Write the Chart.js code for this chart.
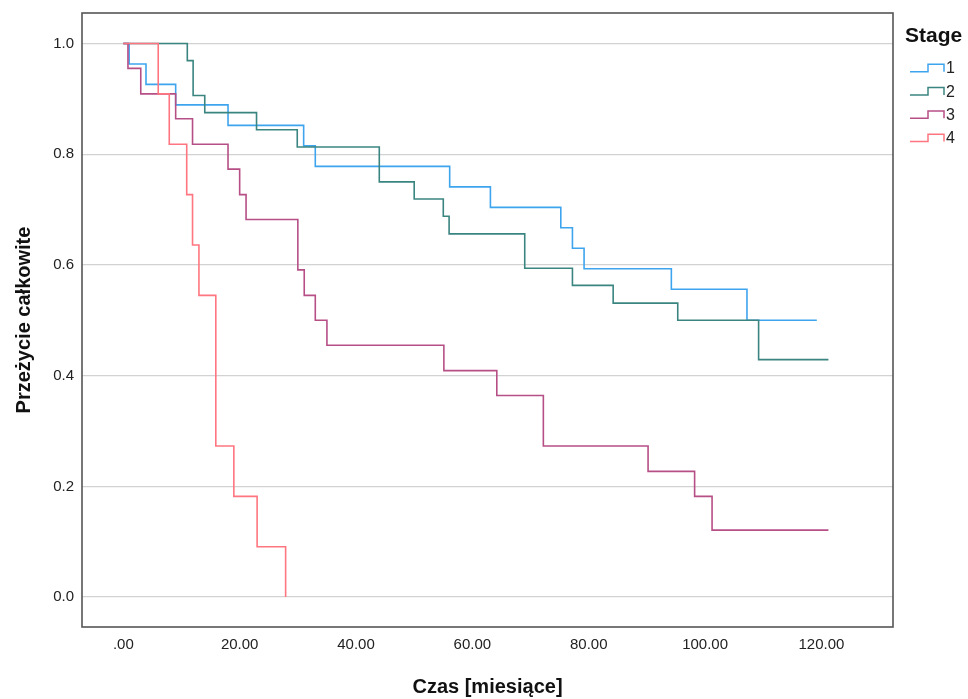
<!DOCTYPE html>
<html>
<head>
<meta charset="utf-8">
<script src="https://cdn.jsdelivr.net/npm/chart.js@4.4.1/dist/chart.umd.min.js"></script>
<style>
  html, body { margin: 0; padding: 0; background: #fff; }
  #wrap { width: 968px; height: 699px; position: relative; }
</style>
</head>
<body>
<div id="wrap"><canvas id="kmChart"></canvas></div>
<script>
// Kaplan-Meier curves (time in months, survival)
var stageLabels = ['1', '2', '3', '4'];
var stageColors = ['#3fa4ee', '#3a8580', '#b64f86', '#ff7680'];

var stage1Times = [0, 1.0, 3.9, 9.0, 18.0, 31.0, 33.0, 56.1, 63.1, 75.2, 77.2, 79.2, 94.2, 107.2, 119.2];
var stage1Surv  = [1, 0.963, 0.926, 0.889, 0.852, 0.815, 0.778, 0.741, 0.704, 0.667, 0.630, 0.593, 0.556, 0.5, 0.5];

var stage2Times = [0, 11.0, 12.0, 14.0, 22.9, 29.9, 44.0, 50.0, 55.0, 56.0, 69.0, 77.2, 84.2, 95.3, 109.2, 121.2];
var stage2Surv  = [1, 0.969, 0.906, 0.875, 0.844, 0.813, 0.75, 0.719, 0.688, 0.656, 0.594, 0.563, 0.531, 0.5, 0.429, 0.429];

var stage3Times = [0, 0.8, 3.0, 9.0, 11.9, 18.0, 20.0, 21.1, 30.0, 31.1, 33.0, 35.0, 55.1, 64.2, 72.2, 90.2, 98.2, 101.2, 121.2];
var stage3Surv  = [1, 0.955, 0.909, 0.864, 0.818, 0.773, 0.727, 0.682, 0.591, 0.545, 0.5, 0.455, 0.409, 0.364, 0.273, 0.227, 0.182, 0.121, 0.121];

var stage4Times = [0, 6.0, 7.9, 10.9, 11.9, 13.0, 15.9, 19.0, 23.0, 27.9];
var stage4Surv  = [1, 0.909, 0.818, 0.727, 0.636, 0.545, 0.273, 0.182, 0.091, 0];

var xTicks = [0, 20, 40, 60, 80, 100, 120];
var yTicks = [0, 0.2, 0.4, 0.6, 0.8, 1.0];

var xTitle = 'Czas [miesiące]';
var yTitle = 'Przeżycie całkowite';
var legendTitle = 'Stage';

var FONT = "'Liberation Sans', Arial, sans-serif";

function toPoints(times, surv) {
  var pts = [];
  for (var i = 0; i < times.length; i++) pts.push({ x: times[i], y: surv[i] });
  return pts;
}

var allTimes = [stage1Times, stage2Times, stage3Times, stage4Times];
var allSurv = [stage1Surv, stage2Surv, stage3Surv, stage4Surv];

var datasets = [];
for (var s = 0; s < 4; s++) {
  datasets.push({
    label: stageLabels[s],
    data: toPoints(allTimes[s], allSurv[s]),
    borderColor: stageColors[s],
    backgroundColor: stageColors[s],
    borderWidth: 1.6,
    pointRadius: 0,
    stepped: true,
    fill: false,
    order: 4 - s
  });
}

// frame round the plot area
var framePlugin = {
  id: 'frame',
  afterDatasetsDraw: function (chart) {
    var a = chart.chartArea, ctx = chart.ctx;
    ctx.save();
    ctx.strokeStyle = '#555';
    ctx.lineWidth = 1.6;
    ctx.strokeRect(a.left, a.top, a.right - a.left, a.bottom - a.top);
    ctx.restore();
  }
};

// SPSS style legend with step symbols
var legendPlugin = {
  id: 'stepLegend',
  afterDraw: function (chart) {
    var ctx = chart.ctx;
    ctx.save();
    ctx.fillStyle = '#111';
    ctx.textBaseline = 'middle';
    ctx.textAlign = 'left';
    ctx.font = 'bold 21px ' + FONT;
    ctx.fillText(legendTitle, 905, 36);
    chart.data.datasets.forEach(function (ds, i) {
      var y0 = 69 + i * 23.3;
      ctx.strokeStyle = ds.borderColor;
      ctx.lineWidth = 1.5;
      ctx.beginPath();
      ctx.moveTo(910, y0 + 2.7);
      ctx.lineTo(928, y0 + 2.7);
      ctx.lineTo(928, y0 - 4.7);
      ctx.lineTo(944, y0 - 4.7);
      ctx.lineTo(944, y0 + 2.7);
      ctx.stroke();
      ctx.fillStyle = '#222';
      ctx.font = '16px ' + FONT;
      ctx.fillText(ds.label, 946, y0);
    });
    ctx.restore();
  }
};

var ctx = document.getElementById('kmChart').getContext('2d');
var chart = new Chart(ctx, {
  type: 'line',
  data: { datasets: datasets },
  plugins: [framePlugin, legendPlugin],
  options: {
    responsive: true,
    maintainAspectRatio: false,
    animation: false,
    layout: { padding: { top: 13, right: 75, left: 0, bottom: 0 } },
    plugins: {
      legend: { display: false },
      tooltip: { enabled: false }
    },
    scales: {
      x: {
        type: 'linear',
        min: -7.1,
        max: 132.3,
        afterFit: function (scale) {
          scale.height = 72;
          scale.paddingLeft = 0;
          scale.paddingRight = 0;
        },
        afterBuildTicks: function (scale) {
          scale.ticks = xTicks.map(function (v) { return { value: v }; });
        },
        grid: { display: false, drawTicks: false },
        border: { display: false },
        ticks: {
          padding: 9,
          color: '#222',
          font: { family: FONT, size: 15 },
          maxRotation: 0,
          callback: function (v) { return v === 0 ? '.00' : v.toFixed(2); }
        },
        title: {
          display: true,
          text: xTitle,
          color: '#111',
          font: { family: FONT, size: 20, weight: 'bold' },
          padding: { top: 0, bottom: 0 }
        }
      },
      y: {
        type: 'linear',
        min: -0.054,
        max: 1.055,
        afterFit: function (scale) {
          scale.width = 82;
          scale.paddingTop = 0;
          scale.paddingBottom = 0;
        },
        afterBuildTicks: function (scale) {
          scale.ticks = yTicks.map(function (v) { return { value: v }; });
        },
        grid: { color: '#d2d2d2', lineWidth: 1.3, drawTicks: false },
        border: { display: false },
        ticks: {
          padding: 8,
          color: '#222',
          font: { family: FONT, size: 15 },
          callback: function (v) { return v.toFixed(1); }
        },
        title: {
          display: true,
          text: yTitle,
          color: '#111',
          font: { family: FONT, size: 20, weight: 'bold' },
          padding: { top: 12, bottom: 0 }
        }
      }
    }
  }
});
</script>
</body>
</html>
